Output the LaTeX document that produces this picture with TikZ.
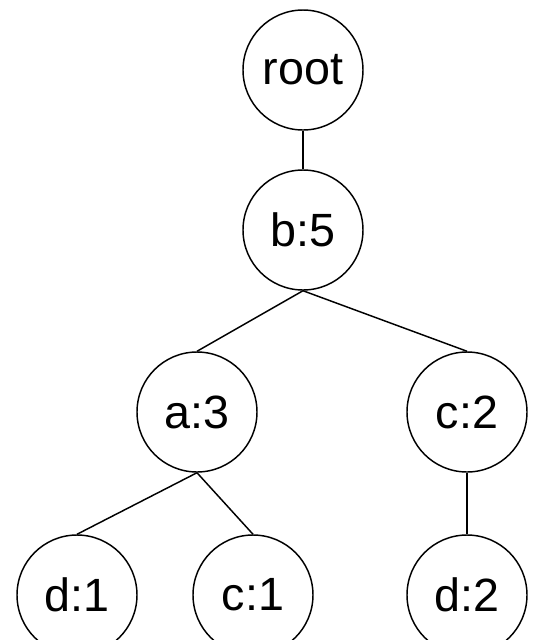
\documentclass[tikz,border=0pt]{standalone}
\usepackage{fontspec}
\setmainfont{Liberation Sans}
\usepackage{tikz}
\usetikzlibrary{positioning}

\tikzset{
  treenode/.style={draw,circle,line width=1.1pt,minimum size=90pt,inner sep=0pt,
    font=\fontsize{35}{35}\selectfont},
  treeedge/.style={line width=1.1pt}
}

\begin{document}
\begin{tikzpicture}[x=0.75pt,y=-0.75pt]
  \useasboundingbox (0,0) rectangle (542,640);

  \node[treenode] (root) at (303,70) {root};
  \node[treenode] (b5) at (303,230) {b:5};
  \node[treenode] (a3) at (197,412) {a:3};
  \node[treenode] (c2) at (467,412) {c:2};
  \node[treenode] (d1) at (77,595) {d:1};
  \node[treenode] (c1) at (253,595) {c:1};
  \node[treenode] (d2) at (467,595) {d:2};

  \draw[treeedge] (root.south) -- (b5.north);
  \draw[treeedge] (b5.south) -- (a3.north);
  \draw[treeedge] (b5.south) -- (c2.north);
  \draw[treeedge] (a3.south) -- (d1.north);
  \draw[treeedge] (a3.south) -- (c1.north);
  \draw[treeedge] (c2.south) -- (d2.north);
\end{tikzpicture}
\end{document}
